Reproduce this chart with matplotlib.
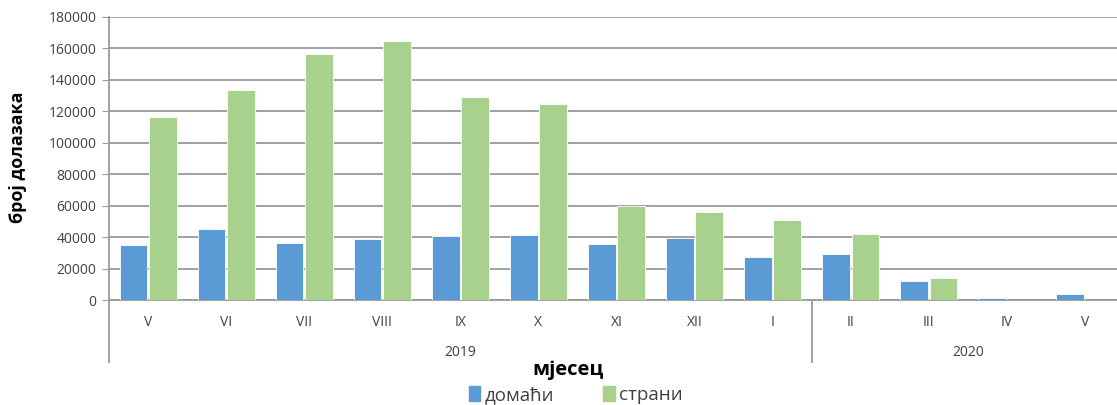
import matplotlib
matplotlib.use("Agg")
import matplotlib.pyplot as plt
import matplotlib.transforms as mtransforms
import numpy as np

plt.rcParams['font.family'] = ['Open Sans', 'DejaVu Sans']

months = ['V', 'VI', 'VII', 'VIII', 'IX', 'X', 'XI', 'XII', 'I', 'II', 'III', 'IV', 'V']
years = ['2019', '2020']
year_counts = [9, 4]
domaci = [35300, 45000, 36300, 39000, 40500, 41300, 35400, 39200, 27100, 29000, 12300, 1000, 3800]
strani = [116600, 133600, 156300, 164900, 128900, 124700, 59800, 56200, 50700, 42000, 14000, 100, 0]

blue = '#5B9BD5'
green = '#A9D18E'
grid_c = '#9a9a9a'
txt_c = '#404040'

fig = plt.figure(figsize=(11.17, 4.05), dpi=100)
ax = fig.add_axes([109/1117, 1-300/405, (1124-109)/1117, 283/405])

x = np.arange(len(months))
w = 0.355
ax.bar(x - w/2 - 0.01, domaci, w, color=blue, edgecolor='white', linewidth=0.6, zorder=3)
ax.bar(x + w/2 + 0.01, strani, w, color=green, edgecolor='white', linewidth=0.6, zorder=3)

ax.set_xlim(-0.5, len(months) - 0.5)
ax.set_ylim(0, 180000)
ax.set_yticks(np.arange(0, 180001, 20000))
ax.yaxis.grid(True, color=grid_c, linewidth=1.3, zorder=0)
ax.tick_params(axis='y', length=5, color=grid_c, labelsize=10, labelcolor=txt_c, pad=4)
ax.set_xticks([])
for s in ['top', 'right']:
    ax.spines[s].set_visible(False)
ax.spines['left'].set_color(grid_c)
ax.spines['bottom'].set_color(grid_c)
ax.spines['left'].set_linewidth(1.3)
ax.spines['bottom'].set_linewidth(1.3)

# month and year labels under the axis
trans = mtransforms.blended_transform_factory(ax.transData, ax.transAxes)
for i, m in enumerate(months):
    ax.text(i, -22/283, m, transform=trans, ha='center', va='center', fontsize=10, color=txt_c)

start = -0.5
for yr, n in zip(years, year_counts):
    ax.plot([start, start], [0, -62/283], transform=trans, color=grid_c, lw=1.3, clip_on=False)
    ax.text(start + n/2, -53/283, yr, transform=trans, ha='center', va='center', fontsize=10, color=txt_c)
    start += n

fig.text(18/1117, 1-157/405, 'број долазака', rotation=90, ha='center', va='center',
         fontsize=13, fontweight='bold', color='black')
fig.text(568/1117, 1-370/405, 'мјесец', ha='center', va='center',
         fontsize=14.5, fontweight='bold', color='black')

h1 = plt.Rectangle((0, 0), 1, 1, color=blue)
h2 = plt.Rectangle((0, 0), 1, 1, color=green)
fig.legend([h1, h2], ['домаћи', 'страни'], loc='center', bbox_to_anchor=(576/1117, 1-395/405),
           ncol=2, frameon=False, fontsize=13.5, handlelength=0.6, handleheight=0.8,
           handletextpad=0.25, columnspacing=2.6, labelcolor=txt_c)

fig.savefig('out.png', dpi=100)
